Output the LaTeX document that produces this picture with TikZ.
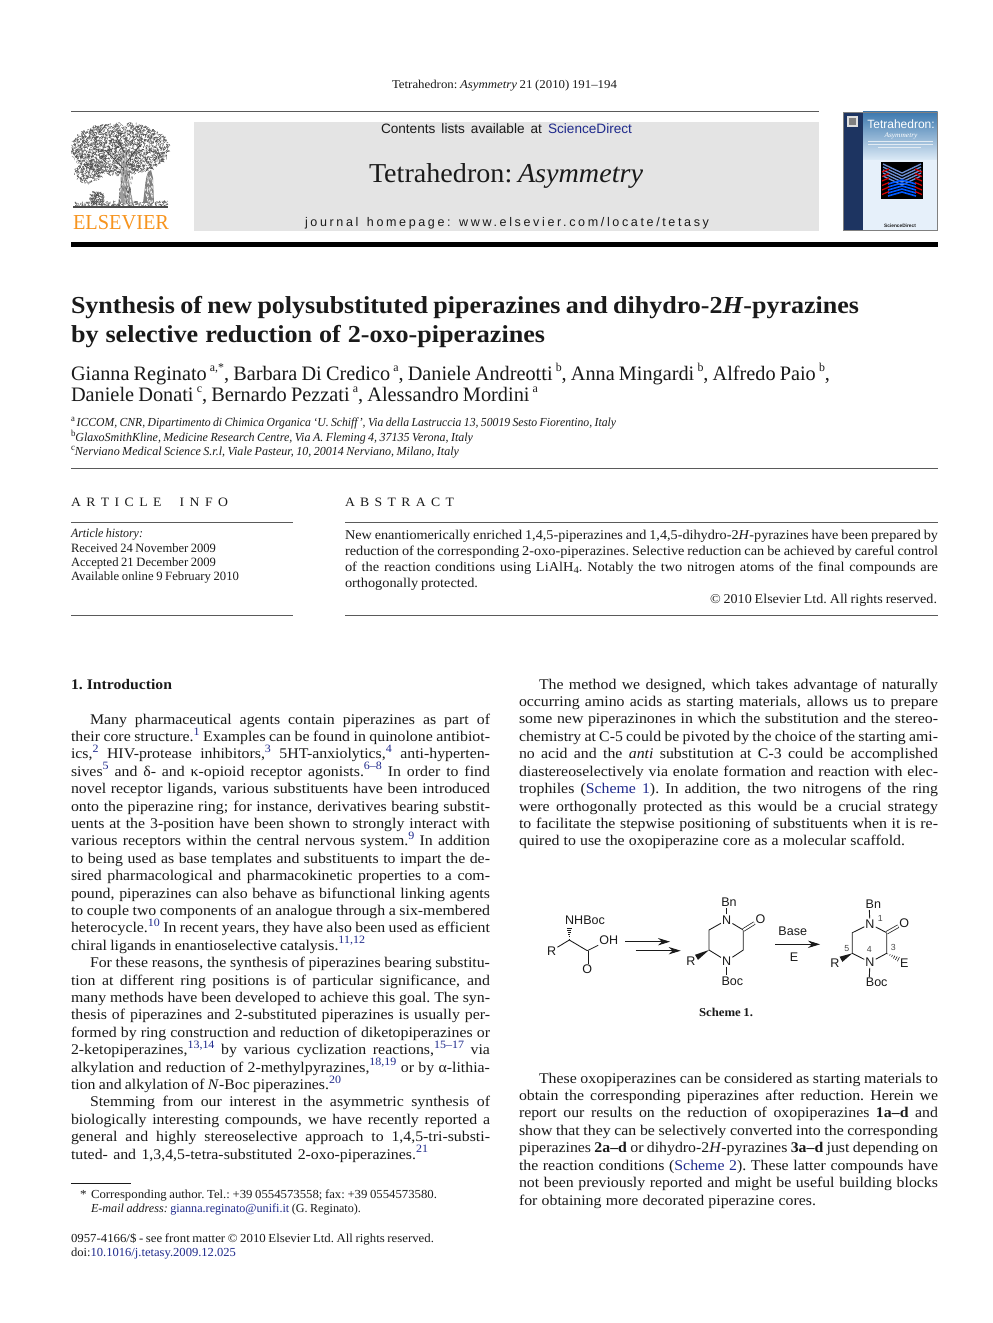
\documentclass[tikz,border=0pt]{standalone}
\usepackage{fontspec}
\usepackage{graphicx}
\usetikzlibrary{calc,arrows.meta}
\setmainfont[FakeStretch=1.07]{Liberation Serif}
\setsansfont{Liberation Sans}
\newfontfamily\hpfont[LetterSpace=21]{Liberation Sans}
\definecolor{lk}{HTML}{1F2A8C}
\definecolor{inkc}{HTML}{1A1A1A}
\definecolor{rulec}{HTML}{5A5A5A}
\definecolor{greybox}{HTML}{E4E4E4}
\definecolor{orangeE}{HTML}{F7941E}
\definecolor{treec}{HTML}{4A4A4A}
\definecolor{spine}{HTML}{1D3461}
\definecolor{covtop}{HTML}{3C78AE}
\definecolor{covmid}{HTML}{DCEAF6}
\definecolor{covlow}{HTML}{E6F0FA}
\newcounter{ln}
\newsavebox{\fitbox}
\newlength{\fitw}
\newcommand{\fitline}[2]{%
  \spaceskip=.22em plus 6em\relax\xspaceskip=\spaceskip
  \setlength{\fitw}{\dimexpr #1pt*3/4\relax}%
  \sbox{\fitbox}{#2}%
  \ifdim\wd\fitbox>\fitw
    \scalebox{\fpeval{(\the\fitw)/(\the\wd\fitbox)}}[1]{\usebox{\fitbox}}%
  \else
    \makebox[\fitw][s]{#2}%
  \fi}
\newcommand{\TL}[4]{\stepcounter{ln}\node[tl] (line\arabic{ln}) at (#1,#2) {\fitline{#3}{#4}};}
\newcommand{\rf}[1]{\raisebox{.42em}{\fontsize{8.4pt}{8.4pt}\selectfont\color{lk}#1}}
\newcommand{\up}[1]{\raisebox{.42em}{\fontsize{9pt}{9pt}\selectfont #1}}
\newcommand{\ups}[1]{\raisebox{.35em}{\fontsize{6.8pt}{6.8pt}\selectfont\upshape #1}}
\newcommand{\lowsub}[1]{\raisebox{-.22em}{\fontsize{7.5pt}{7.5pt}\selectfont #1}}
\newcommand{\fnt}[1]{\fontsize{#1pt}{#1pt}\selectfont}
\newcommand{\hashbond}[2]{\foreach \t/\w in {0.08/.25,0.24/.55,0.40/.85,0.56/1.15,0.72/1.45,0.88/1.75}{\draw[line width=.45pt,inkc] ($(#1)!\t!(#2)!\w pt!90:(#2)$) -- ($(#1)!\t!(#2)!\w pt!-90:(#2)$);}}
\newcommand{\wedgebond}[2]{\fill[inkc] (#1) -- ($(#2)!2.2pt!90:(#1)$) -- ($(#2)!2.2pt!-90:(#1)$) -- cycle;}
\tikzset{
  tl/.style={anchor=base west,inner sep=0pt,outer sep=0pt,text=inkc},
  hrule/.style={draw=rulec,line width=.7pt},
  atom/.style={font=\sffamily\fnt{9.4},inner sep=.9pt,outer sep=0pt,text=inkc},
  num/.style={font=\sffamily\fnt{6.6},inner sep=0pt,text=inkc!80},
  bond/.style={draw=inkc,line width=.65pt},
  cbond/.style={bond,double,double distance=1.5pt,line width=.55pt},
  rxn/.style={draw=inkc,line width=.65pt,-{Stealth[length=9pt,width=5.5pt]}},
}
\begin{document}
\begin{tikzpicture}[x=0.75pt,y=-0.75pt]
\useasboundingbox (0,0) rectangle (992,1323);
\fill[white] (0,0) rectangle (992,1323);
% ---- header rules and box
\fill[greybox] (194,122) rectangle (819,231);
\draw[hrule] (71,111) -- (819,111);
\fill[black] (71,242) rectangle (938,247);
\begin{scope}[tl/.append style={font=\fnt{9}}]
\TL{392}{89}{225}{Tetrahedron: \textit{Asymmetry} 21 (2010) 191–194}
\end{scope}
\begin{scope}[tl/.append style={font=\sffamily\fnt{10.2}}]
\TL{381}{134}{251}{Contents lists available at {\color{lk}ScienceDirect}}
\end{scope}
\begin{scope}[tl/.append style={font=\fnt{20.5}}]
\TL{369}{183}{274}{Tetrahedron: \textit{Asymmetry}}
\end{scope}
\begin{scope}[tl/.append style={font=\hpfont\fnt{9.4}}]
\TL{305}{227}{404}{journal homepage: www.elsevier.com/locate/tetasy}
\end{scope}
% ---- Elsevier tree
\pgfmathsetseed{11}
\begin{scope}
\clip (71,123) rectangle (170,208);
\foreach \i in {1,...,2300}{
  \pgfmathsetmacro\rr{sqrt(rnd)}\pgfmathsetmacro\aa{360*rnd}
  \pgfmathsetmacro\xx{120+49*\rr*cos(\aa)}\pgfmathsetmacro\yy{149+26*\rr*sin(\aa)}
  \pgfmathsetmacro\bb{360*rnd}
  \draw[treec,line width=.3pt] (\xx,\yy) -- ++(\bb:2);
}
\foreach \i in {1,...,220}{
  \pgfmathsetmacro\rr{sqrt(rnd)}\pgfmathsetmacro\aa{360*rnd}
  \pgfmathsetmacro\xx{88+14*\rr*cos(\aa)}\pgfmathsetmacro\yy{173+10*\rr*sin(\aa)}
  \pgfmathsetmacro\bb{360*rnd}
  \draw[treec,line width=.3pt] (\xx,\yy) -- ++(\bb:2);
}
\foreach \i in {1,...,110}{
  \pgfmathsetmacro\rr{sqrt(rnd)}\pgfmathsetmacro\aa{360*rnd}
  \pgfmathsetmacro\xx{97+7*\rr*cos(\aa)}\pgfmathsetmacro\yy{198+6*\rr*sin(\aa)}
  \pgfmathsetmacro\bb{360*rnd}
  \draw[treec,line width=.35pt] (\xx,\yy) -- ++(\bb:2);
}
\foreach \i in {1,...,220}{
  \pgfmathsetmacro\xx{75+92*rnd}\pgfmathsetmacro\yy{202+5*rnd}
  \pgfmathsetmacro\bb{180+180*rnd}
  \draw[treec,line width=.3pt] (\xx,\yy) -- ++(\bb:2);
}
\end{scope}
\fill[treec!55] (118,203) .. controls (122,185) and (120,170) .. (122,150) -- (127,150) .. controls (126,170) and (130,185) .. (133,203) -- cycle;
\foreach \i in {1,...,90}{
  \pgfmathsetmacro\xx{118+14*rnd}\pgfmathsetmacro\yy{150+52*rnd}
  \draw[white,line width=.35pt] (\xx,\yy) -- ++(80:2.5);
}
\foreach \i in {1,...,70}{
  \pgfmathsetmacro\xx{118+14*rnd}\pgfmathsetmacro\yy{150+52*rnd}
  \draw[treec,line width=.35pt] (\xx,\yy) -- ++(80:2.5);
}
\draw[treec,line width=.7pt] (123,168) -- (105,150) (126,163) -- (140,145) (124,152) -- (116,136);
\fill[treec!70] (143,203) -- (146,178) -- (148,172) -- (151,170) -- (153,178) -- (154,203) -- cycle;
\foreach \i in {1,...,45}{
  \pgfmathsetmacro\xx{144+9*rnd}\pgfmathsetmacro\yy{172+30*rnd}
  \draw[white,line width=.35pt] (\xx,\yy) -- ++(70:3);
}
\draw[treec,line width=.9pt] (73,207) -- (168,207);
\node[tl,text=orangeE,font=\fnt{15}] (elsevier) at (73,229.5) {\resizebox{72pt}{10.6pt}{ELSEVIER}};
% ---- cover
\fill[covlow] (843,112) rectangle (937.5,230);
\shade[top color=covtop,bottom color=covmid] (863,112) rectangle (937.5,160);
\fill[spine] (843,112) rectangle (863,230);
\fill[white!75!gray] (847,116) rectangle (858,127);
\fill[gray] (849,118) rectangle (856,125);
\draw[gray,line width=.6pt] (843,112) rectangle (937.5,230);
\node[font=\sffamily\fnt{9},text=white,inner sep=0pt] (covert) at (901,124.5) {Tetrahedron:};
\node[font=\itshape\fnt{5.2},text=white,inner sep=0pt] (covera) at (901,135.5) {Asymmetry};
\foreach \yy/\xa/\xb in {141/868/933,144/868/933,147/878/921}{\draw[white!85!covtop,line width=.35pt] (\xa,\yy) -- (\xb,\yy);}
\fill[black] (881,162) rectangle (923,199);
\foreach \i in {0,1,2,3,4}{
  \draw[cyan!40!blue!60!white,line width=1pt] (883,{164+3*\i}) -- (902,{173+3*\i}) -- (921,{164+3*\i});
}
\foreach \i in {0,1,2,3,4}{
  \draw[blue!65!cyan,line width=1.2pt] (888,{196-3*\i}) -- (902,{192-3*\i}) -- (916,{196-3*\i});
}
\foreach \i in {0,1,2,3,4,5}{
  \draw[red!85!black,line width=.9pt] (882,{172+4.5*\i}) -- (889,{169+4.5*\i});
  \draw[red!85!black,line width=.9pt] (922,{172+4.5*\i}) -- (915,{169+4.5*\i});
}
\node[font=\sffamily\bfseries\fnt{3.6},text=inkc,inner sep=0pt] (coversd) at (900,226) {ScienceDirect};
% ---- title
\begin{scope}[tl/.append style={font=\bfseries\fnt{18.3}}]
\TL{71}{313}{788}{Synthesis of new polysubstituted piperazines and dihydro-2\textit{H}-pyrazines}
\TL{71}{342}{474}{by selective reduction of 2-oxo-piperazines}
\end{scope}
% ---- authors
\begin{scope}[tl/.append style={font=\fnt{15.4}}]
\TL{71}{380}{759}{Gianna Reginato\,\up{a,*}, Barbara Di Credico\,\up{a}, Daniele Andreotti\,\up{b}, Anna Mingardi\,\up{b}, Alfredo Paio\,\up{b},}
\TL{71}{401}{467}{Daniele Donati\,\up{c}, Bernardo Pezzati\,\up{a}, Alessandro Mordini\,\up{a}}
\end{scope}
% ---- affiliations
\begin{scope}[tl/.append style={font=\itshape\fnt{9.2}}]
\TL{71}{426}{545}{\ups{a}\,ICCOM, CNR, Dipartimento di Chimica Organica ‘U. Schiff’, Via della Lastruccia 13, 50019 Sesto Fiorentino, Italy}
\TL{71}{441}{402}{\ups{b}GlaxoSmithKline, Medicine Research Centre, Via A. Fleming 4, 37135 Verona, Italy}
\TL{71}{455}{388}{\ups{c}Nerviano Medical Science S.r.l, Viale Pasteur, 10, 20014 Nerviano, Milano, Italy}
\end{scope}
\draw[hrule] (71,468.5) -- (938,468.5);
% ---- article info
\begin{scope}[tl/.append style={font=\fnt{9.6}}]
\TL{71}{506}{157}{A R T I C L E \quad I N F O}
\TL{345}{506}{109}{A B S T R A C T}
\end{scope}
\draw[hrule] (71,522) -- (293,522);
\draw[hrule] (71,615) -- (293,615);
\draw[hrule] (345,522) -- (938,522);
\draw[hrule] (345,615) -- (938,615);
\begin{scope}[tl/.append style={font=\fnt{9.5}}]
\TL{71}{537}{72}{\textit{Article history:}}
\TL{71}{552}{145}{Received 24 November 2009}
\TL{71}{566}{145}{Accepted 21 December 2009}
\TL{71}{580}{168}{Available online 9 February 2010}
\end{scope}
\begin{scope}[tl/.append style={font=\fnt{10.1}}]
\TL{345}{539}{593}{New enantiomerically enriched 1,4,5-piperazines and 1,4,5-dihydro-2\textit{H}-pyrazines have been prepared by}
\TL{345}{555}{593}{reduction of the corresponding 2-oxo-piperazines. Selective reduction can be achieved by careful control}
\TL{345}{571}{593}{of the reaction conditions using LiAlH\lowsub{4}. Notably the two nitrogen atoms of the final compounds are}
\TL{345}{587}{133}{orthogonally protected.}
\TL{710}{603}{227}{© 2010 Elsevier Ltd. All rights reserved.}
\end{scope}
% ---- section heading
\begin{scope}[tl/.append style={font=\bfseries\fnt{11}}]
\TL{71}{689}{101}{1.\ Introduction}
\end{scope}
% ---- left column
\begin{scope}[tl/.append style={font=\fnt{11.1}}]
\TL{90}{724}{400}{Many pharmaceutical agents contain piperazines as part of}
\TL{71}{741.4}{419}{their core structure.\rf{1} Examples can be found in quinolone antibiot-}
\TL{71}{758.8}{419}{ics,\rf{2} HIV-protease inhibitors,\rf{3} 5HT-anxiolytics,\rf{4} anti-hyperten-}
\TL{71}{776.2}{419}{sives\rf{5} and δ- and κ-opioid receptor agonists.\rf{6–8} In order to find}
\TL{71}{793.6}{419}{novel receptor ligands, various substituents have been introduced}
\TL{71}{811}{419}{onto the piperazine ring; for instance, derivatives bearing substit-}
\TL{71}{828.4}{419}{uents at the 3-position have been shown to strongly interact with}
\TL{71}{845.8}{419}{various receptors within the central nervous system.\rf{9} In addition}
\TL{71}{863.2}{419}{to being used as base templates and substituents to impart the de-}
\TL{71}{880.6}{419}{sired pharmacological and pharmacokinetic properties to a com-}
\TL{71}{898}{419}{pound, piperazines can also behave as bifunctional linking agents}
\TL{71}{915.4}{419}{to couple two components of an analogue through a six-membered}
\TL{71}{932.8}{419}{heterocycle.\rf{10} In recent years, they have also been used as efficient}
\TL{71}{950.2}{294}{chiral ligands in enantioselective catalysis.\rf{11,12}}
\TL{90}{967.6}{400}{For these reasons, the synthesis of piperazines bearing substitu-}
\TL{71}{985}{419}{tion at different ring positions is of particular significance, and}
\TL{71}{1002.4}{419}{many methods have been developed to achieve this goal. The syn-}
\TL{71}{1019.8}{419}{thesis of piperazines and 2-substituted piperazines is usually per-}
\TL{71}{1037.2}{419}{formed by ring construction and reduction of diketopiperazines or}
\TL{71}{1054.6}{419}{2-ketopiperazines,\rf{13,14} by various cyclization reactions,\rf{15–17} via}
\TL{71}{1072}{419}{alkylation and reduction of 2-methylpyrazines,\rf{18,19} or by α-lithia-}
\TL{71}{1089.4}{270}{tion and alkylation of \textit{N}-Boc piperazines.\rf{20}}
\TL{90}{1106.8}{400}{Stemming from our interest in the asymmetric synthesis of}
\TL{71}{1124.2}{419}{biologically interesting compounds, we have recently reported a}
\TL{71}{1141.6}{419}{general and highly stereoselective approach to 1,4,5-tri-substi-}
\TL{71}{1159}{357}{tuted- and 1,3,4,5-tetra-substituted 2-oxo-piperazines.\rf{21}}
% ---- right column
\TL{539}{689}{399}{The method we designed, which takes advantage of naturally}
\TL{519}{706.4}{419}{occurring amino acids as starting materials, allows us to prepare}
\TL{519}{723.9}{419}{some new piperazinones in which the substitution and the stereo-}
\TL{519}{741.3}{419}{chemistry at C-5 could be pivoted by the choice of the starting ami-}
\TL{519}{758.7}{419}{no acid and the \textit{anti} substitution at C-3 could be accomplished}
\TL{519}{776.2}{419}{diastereoselectively via enolate formation and reaction with elec-}
\TL{519}{793.6}{419}{trophiles ({\color{lk}Scheme 1}). In addition, the two nitrogens of the ring}
\TL{519}{811}{419}{were orthogonally protected as this would be a crucial strategy}
\TL{519}{828.4}{419}{to facilitate the stepwise positioning of substituents when it is re-}
\TL{519}{845.9}{386}{quired to use the oxopiperazine core as a molecular scaffold.}
\TL{539}{1083}{399}{These oxopiperazines can be considered as starting materials to}
\TL{519}{1100.4}{419}{obtain the corresponding piperazines after reduction. Herein we}
\TL{519}{1117.9}{419}{report our results on the reduction of oxopiperazines \textbf{1a–d} and}
\TL{519}{1135.3}{419}{show that they can be selectively converted into the corresponding}
\TL{519}{1152.7}{419}{piperazines \textbf{2a–d} or dihydro-2\textit{H}-pyrazines \textbf{3a–d} just depending on}
\TL{519}{1170.2}{419}{the reaction conditions ({\color{lk}Scheme 2}). These latter compounds have}
\TL{519}{1187.6}{419}{not been previously reported and might be useful building blocks}
\TL{519}{1205}{297}{for obtaining more decorated piperazine cores.}
\end{scope}
% ---- footnotes
\draw[draw=inkc,line width=.7pt] (71,1183.5) -- (131,1183.5);
\begin{scope}[tl/.append style={font=\fnt{9.2}}]
\node[tl] (star) at (80,1198) {*};
\TL{91}{1198}{346}{Corresponding author. Tel.: +39 0554573558; fax: +39 0554573580.}
\TL{91}{1212}{270}{\textit{E-mail address:} {\color{lk}gianna.reginato@unifi.it} (G. Reginato).}
\TL{71}{1242}{363}{0957-4166/\$ - see front matter © 2010 Elsevier Ltd. All rights reserved.}
\TL{71}{1256}{165}{doi:{\color{lk}10.1016/j.tetasy.2009.12.025}}
\end{scope}
% ---- Scheme 1: amino acid
\coordinate (aC) at (569.3,940);
\coordinate (aH) at (569.3,926.5);
\coordinate (aCO) at (587.3,950.7);
\node[atom] (aR) at (551.7,950.7) {R};
\node[atom] (aNH) at (585,920) {NHBoc};
\node[atom] (aO) at (587.3,969.5) {O};
\node[atom] (aOH) at (608.8,940) {OH};
\draw[bond] (aR) -- (aC) -- (aCO) -- (aOH);
\draw[cbond] (aCO) -- (aO);
\hashbond{aC}{aH}
% arrows
\coordinate (ar1s) at (625,941.7);
\coordinate (ar1e) at (670,941.7);
\coordinate (ar2s) at (635.7,950.7);
\coordinate (ar2e) at (680.7,950.7);
\draw[rxn] (ar1s) -- (ar1e);
\draw[rxn] (ar2s) -- (ar2e);
% ---- piperazinone
\node[atom] (bN1) at (726.7,920) {N};
\node[atom] (bN4) at (726.7,961) {N};
\node[atom] (bBn) at (729,902) {Bn};
\node[atom] (bBoc) at (732.3,981) {Boc};
\node[atom] (bO) at (760.5,919.3) {O};
\node[atom] (bR) at (691,961) {R};
\coordinate (bC6) at (709,930);
\coordinate (bC5) at (709,950);
\coordinate (bC3) at (743.3,950);
\coordinate (bC2) at (743.3,930);
\coordinate (bW) at (696.5,957.3);
\coordinate (bBnN) at (726.7,908);
\coordinate (bBocN) at (726.7,975);
\draw[bond] (bN1) -- (bC6) -- (bC5) -- (bN4) -- (bC3) -- (bC2) -- (bN1);
\draw[bond] (bN1) -- (bBnN);
\draw[bond] (bN4) -- (bBocN);
\draw[cbond] (bC2) -- (bO);
\wedgebond{bC5}{bW}
% reaction arrow 2
\coordinate (ar3s) at (775,944.3);
\coordinate (ar3e) at (820,944.3);
\draw[rxn] (ar3s) -- (ar3e);
\node[atom] (base) at (792.7,931.7) {Base};
\node[atom] (eabove) at (794,956.7) {E};
% ---- product
\node[atom] (cN1) at (870,924) {N};
\node[atom] (cN4) at (870,962.3) {N};
\node[atom] (cBn) at (873.3,904) {Bn};
\node[atom] (cBoc) at (876.7,982.7) {Boc};
\node[atom] (cO) at (904.3,922.7) {O};
\node[atom] (cR) at (835,962.7) {R};
\node[atom] (cE) at (904.3,962.7) {E};
\coordinate (cC6) at (852.3,932.7);
\coordinate (cC5) at (852.3,953.3);
\coordinate (cC3) at (886.7,953.3);
\coordinate (cC2) at (886.7,932.7);
\coordinate (cW) at (841,959.3);
\coordinate (cH) at (900,960);
\coordinate (cBnN) at (869.3,910);
\coordinate (cBocN) at (869.3,977);
\draw[bond] (cN1) -- (cC6) -- (cC5) -- (cN4) -- (cC3) -- (cC2) -- (cN1);
\draw[bond] (cN1) -- (cBnN);
\draw[bond] (cN4) -- (cBocN);
\draw[cbond] (cC2) -- (cO);
\wedgebond{cC5}{cW}
\hashbond{cC3}{cH}
\node[num] (n1) at (880.3,918.3) {1};
\node[num] (n5) at (846.7,948.3) {5};
\node[num] (n4) at (869.3,949) {4};
\node[num] (n3) at (893.3,947.3) {3};
\begin{scope}[tl/.append style={font=\bfseries\fnt{9}}]
\TL{699}{1016}{54}{Scheme 1.}
\end{scope}
\end{tikzpicture}
\end{document}
